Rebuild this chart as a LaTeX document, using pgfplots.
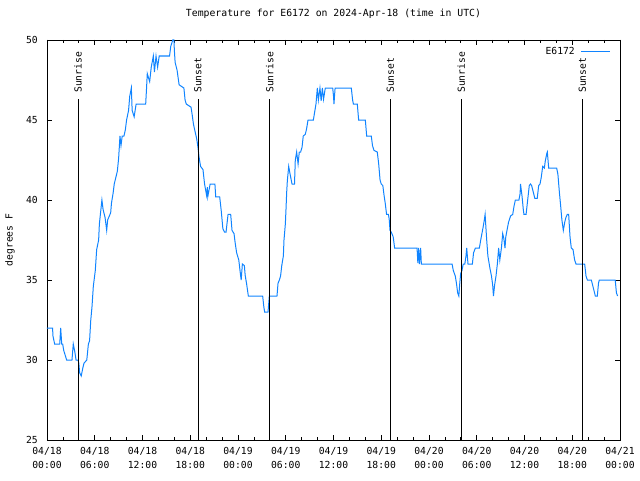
\documentclass[border=0pt]{standalone}
\usepackage{pgfplots}
\pgfplotsset{compat=1.18}
\usepackage{fontspec}
\setmainfont{DejaVu Sans Mono}
\definecolor{lineblue}{RGB}{16,132,255}
\begin{document}
\begin{tikzpicture}[x=1pt,y=1pt]
\path[use as bounding box] (0,0) rectangle (640,480);
\begin{axis}[
  at={(47pt,40pt)}, anchor=south west,
  scale only axis, width=573pt, height=400pt,
  xmin=0, xmax=72, ymin=25, ymax=50,
  xtick={0,6,...,72}, minor xtick={0,2,...,72},
  ytick={25,30,...,50},
  xticklabels={04/18\\00:00,04/18\\06:00,04/18\\12:00,04/18\\18:00,04/19\\00:00,04/19\\06:00,04/19\\12:00,04/19\\18:00,04/20\\00:00,04/20\\06:00,04/20\\12:00,04/20\\18:00,04/21\\00:00},
  /pgf/number format/assume math mode=true,
  tick style={black, line width=0.8pt},
  major tick length=5pt, minor tick length=3pt,
  axis line style={black, line width=0.9pt},
  every tick label/.append style={font=\fontsize{9.7}{14}\selectfont},
  xticklabel style={align=center, inner sep=0pt, yshift=-7pt},
  yticklabel style={inner sep=0pt, xshift=-9pt},
  title={Temperature for E6172 on 2024-Apr-18 (time in UTC)},
  title style={font=\fontsize{9.8}{12}\selectfont, at={(axis description cs:0.5,1)}, anchor=center, yshift=20pt},
  ylabel={degrees F},
  ylabel style={font=\fontsize{9.7}{12}\selectfont, at={(axis description cs:-0.0646,0.5)}, anchor=center},
  legend style={draw=none, fill=none, at={(1,1)}, anchor=north east, xshift=-6pt, yshift=-3pt, font=\fontsize{9.7}{12}\selectfont, legend cell align=right},
  legend plot pos=right,
  legend image code/.code={\path (0pt,0pt); \draw[#1] (4pt,0pt) -- (33pt,0pt);},
  clip=false,
]
\addplot[lineblue, line width=1pt] coordinates {
(0,32)(0.7,32)(0.75,31.5)(0.96,31)(1.6,31)(1.72,32)(1.85,31)(1.97,31)(2.1,30.6)(2.47,30)
(3.14,30)(3.3,31)(3.5,30.5)(3.65,30)(3.9,30)(4.0,29.8)(4.1,29.2)(4.3,29)(4.5,29.5)(4.65,29.8)
(5.0,30)(5.1,30.5)(5.2,31)(5.35,31.2)(5.5,32.5)(5.65,33.3)(5.82,34.6)(6.07,35.6)(6.24,36.9)(6.49,37.5)
(6.58,38.5)(6.75,39.3)(6.9,40)(7.05,39.4)(7.3,38.9)(7.5,38.1)(7.62,38.75)(8.0,39.2)(8.1,39.8)(8.3,40.4)
(8.45,41)(8.84,41.8)(9.0,42.6)(9.17,44)(9.3,43.4)(9.45,44)(9.67,44)(9.85,44.4)(10.0,45)(10.25,45.6)
(10.4,46.5)(10.6,47)(10.7,45.6)(10.95,45.2)(11.2,46)(12.4,46)(12.5,46.9)(12.6,47.9)(12.9,47.4)(13.1,48.3)
(13.36,49)(13.5,48)(13.7,49)(13.9,48.3)(14.1,49)(15.4,49)(15.55,49.6)(15.8,50)(15.95,50)(16.0,49.4)
(16.1,48.6)(16.35,48.1)(16.6,47.2)(17.2,47)(17.35,46.25)(17.5,46)(18.1,45.8)(18.25,45.3)(18.4,44.75)(18.55,44.4)
(18.8,43.85)(18.97,43.3)(19.1,42.7)(19.3,42.1)(19.6,41.9)(19.8,41)(20.05,40.3)(20.15,40.8)(20.2,40.2)(20.5,41)
(21.1,41)(21.2,40.2)(21.7,40.2)(21.9,39.3)(22.1,38.2)(22.3,38)(22.5,38)(22.75,39.1)(23.08,39.1)(23.25,38.1)
(23.5,37.9)(23.65,37.3)(23.83,36.7)(24.1,36.25)(24.25,35.6)(24.4,35)(24.55,36)(24.8,35.9)(24.9,35.3)(25.1,34.7)
(25.3,34)(27.1,34)(27.25,33.3)(27.35,33)(27.77,33)(27.94,34)(28.9,34)(29.03,34.8)(29.2,35)(29.35,35.25)
(29.5,35.9)(29.7,36.5)(29.78,37.5)(29.95,38.5)(30.03,39.4)(30.12,40.5)(30.2,41.2)(30.37,42.1)(30.55,41.6)(30.79,41)
(31.1,41)(31.2,42.5)(31.37,43)(31.55,42.25)(31.7,43)(31.87,43)(32.05,43.3)(32.2,44)(32.45,44.1)(32.6,44.4)
(32.8,45)(33.47,45)(33.6,45.4)(33.8,46)(33.97,47)(34.1,46.25)(34.3,47)(34.45,46.2)(34.6,47)(34.75,46.3)
(34.97,47)(35.9,47)(36.0,46.5)(36.06,46)(36.2,47)(38.24,47)(38.4,46.25)(38.5,46)(38.99,46)(39.16,45)
(40.0,45)(40.17,44)(40.75,44)(40.9,43.4)(41.09,43.1)(41.5,43)(41.68,42.25)(41.85,41.25)(42.0,41)(42.2,40.9)
(42.35,40.3)(42.5,39.8)(42.67,39.1)(42.9,39.1)(43.0,38.8)(43.1,38.1)(43.25,38)(43.5,37.7)(43.68,37)(46.5,37)
(46.6,36.05)(46.7,37)(46.8,36)(46.95,37)(47.04,36)(50.9,36)(51.05,35.6)(51.3,35.25)(51.45,34.8)(51.6,34.2)
(51.75,34)(51.85,34.7)(51.98,35.4)(52.15,35.6)(52.3,36)(52.5,36)(52.65,36.5)(52.74,37)(52.9,36)(53.45,36)
(53.6,36.7)(53.83,37)(54.33,37)(54.5,37.5)(54.65,37.9)(54.8,38.3)(54.95,38.75)(55.05,39.1)(55.25,37.5)(55.4,36.5)
(55.67,35.7)(55.85,35.25)(56.0,34.7)(56.1,34)(56.25,34.7)(56.42,35.25)(56.59,36)(56.75,37)(56.9,36.25)(57.1,37)
(57.26,37.9)(57.4,37.6)(57.55,37)(57.65,37.7)(57.8,38.1)(57.99,38.6)(58.25,39)(58.52,39.1)(58.68,39.6)(58.85,40)
(59.3,40)(59.45,40.4)(59.5,41)(59.7,40.2)(59.85,39.4)(59.93,39.1)(60.2,39.1)(60.4,40)(60.6,40.9)(60.75,41)
(60.9,40.9)(61.3,40.1)(61.6,40.1)(61.78,40.9)(61.95,41)(62.1,41.4)(62.29,42.1)(62.5,42)(62.6,42.4)(62.8,42.9)
(62.87,43)(63.04,42)(64.04,42)(64.2,41.6)(64.38,40.5)(64.55,39.6)(64.7,38.75)(64.88,38.1)(65.05,38.6)(65.2,38.9)
(65.38,39.1)(65.55,39.1)(65.72,37.7)(65.88,37)(66.1,36.9)(66.3,36.25)(66.47,36)(67.56,36)(67.73,35.25)(67.9,35)
(68.4,35)(68.55,34.7)(68.7,34.4)(68.9,34)(69.15,34)(69.3,34.8)(69.4,35)(71.4,35)(71.55,34.2)(71.7,34)
};
\addlegendentry{E6172}
\foreach \h/\lab in {3.9/Sunrise,18.97/Sunset,28.0/Sunrise,43.14/Sunset,52.06/Sunrise,67.27/Sunset}{
  \edef\temp{\noexpand\draw[black, line width=0.9pt] (axis cs:\h,25) -- (axis cs:\h,46.3)
    node[rotate=90, anchor=west, inner sep=0pt, xshift=6pt, font=\noexpand\fontsize{9.7}{12}\noexpand\selectfont] {\lab};}
  \temp
}
\end{axis}
\end{tikzpicture}
\end{document}
